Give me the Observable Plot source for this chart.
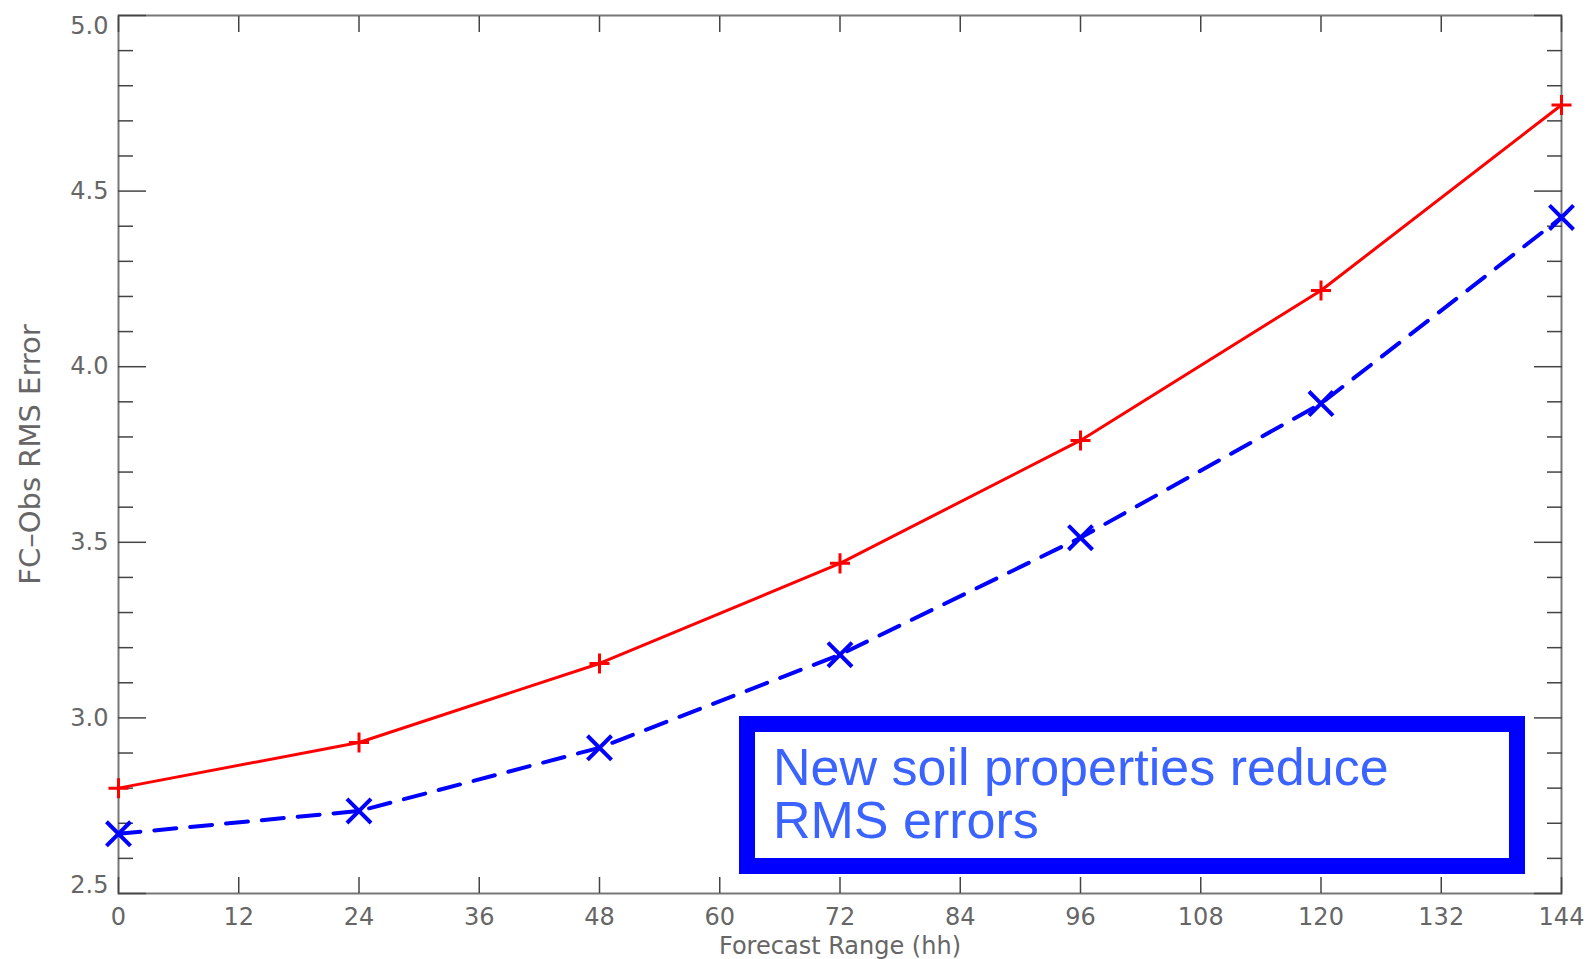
<!DOCTYPE html>
<html><head><meta charset="utf-8">
<script src="https://cdn.jsdelivr.net/npm/d3@7"></script>
<script src="https://cdn.jsdelivr.net/npm/@observablehq/plot@0.6"></script>
<style>
body{margin:0;background:#fff;}
#wrap{position:relative;width:1587px;height:959px;}
#note{position:absolute;left:739px;top:716px;width:786px;height:158px;box-sizing:border-box;border:16px solid #0000ff;background:#fff;padding:9px 0 0 18px;font-family:"Liberation Sans",Arial,sans-serif;font-size:52px;line-height:53px;color:#3a63ff;white-space:nowrap;}
</style></head><body>
<div id="wrap"></div>
<script>
const hours = [0, 24, 48, 72, 96, 120, 144];
const rmsControl = [2.80, 2.93, 3.155, 3.44, 3.79, 4.217, 4.745];
const rmsNewSoil = [2.67, 2.735, 2.915, 3.18, 3.513, 3.895, 4.425];
const xTicks = [0, 12, 24, 36, 48, 60, 72, 84, 96, 108, 120, 132, 144];
const yMajor = [2.5, 3.0, 3.5, 4.0, 4.5, 5.0];
const yMinor = [2.6, 2.7, 2.8, 2.9, 3.1, 3.2, 3.3, 3.4, 3.6, 3.7, 3.8, 3.9, 4.1, 4.2, 4.3, 4.4, 4.6, 4.7, 4.8, 4.9];
const xTitle = "Forecast Range (hh)";
const yTitle = "FC–Obs RMS Error";
const noteLines = ["New soil properties reduce", "RMS errors"];

const control = hours.map((h, i) => ({h, v: rmsControl[i]}));
const newSoil = hours.map((h, i) => ({h, v: rmsNewSoil[i]}));

const tickStyle = {stroke: "#444", strokeWidth: 1.5, tickFormat: () => "", label: null};
const textStyle = {tickSize: 0, label: null, fill: "#666", fontSize: 24};
const yMid = yMajor.filter(d => d !== 2.5 && d !== 5.0);

const chart = Plot.plot({
  width: 1587,
  height: 959,
  marginLeft: 118,
  marginRight: 26,
  marginTop: 15,
  marginBottom: 66,
  style: {fontFamily: "'DejaVu Sans', sans-serif", background: "#fff", overflow: "visible"},
  x: {domain: [0, 144], axis: null},
  y: {domain: [2.5, 5.0], axis: null},
  marks: [
    Plot.frame({stroke: "#777", strokeWidth: 2}),
    // inward tick marks
    Plot.axisY(yMajor, {anchor: "left", tickSize: -28, ...tickStyle}),
    Plot.axisY(yMinor, {anchor: "left", tickSize: -15, ...tickStyle}),
    Plot.axisY(yMajor, {anchor: "right", tickSize: -28, ...tickStyle}),
    Plot.axisY(yMinor, {anchor: "right", tickSize: -15, ...tickStyle}),
    Plot.axisX(xTicks, {anchor: "bottom", tickSize: -16, ...tickStyle}),
    Plot.axisX(xTicks, {anchor: "top", tickSize: -16, ...tickStyle}),
    // tick labels
    Plot.axisY(yMid, {anchor: "left", tickPadding: 10, tickFormat: d => d.toFixed(1), ...textStyle}),
    Plot.axisY([5.0], {anchor: "left", tickPadding: 10, dy: 11, tickFormat: d => d.toFixed(1), ...textStyle}),
    Plot.axisY([2.5], {anchor: "left", tickPadding: 10, dy: -8, tickFormat: d => d.toFixed(1), ...textStyle}),
    Plot.axisX(xTicks, {anchor: "bottom", tickPadding: 14, tickFormat: d => String(d), ...textStyle}),
    // axis titles
    Plot.text([xTitle], {frameAnchor: "bottom", textAnchor: "middle", lineAnchor: "middle", dy: 53, fill: "#666", fontSize: 24}),
    Plot.text([yTitle], {frameAnchor: "left", textAnchor: "middle", lineAnchor: "middle", rotate: -90, dx: -88, fill: "#666", fontSize: 29}),
    // series
    Plot.line(control, {x: "h", y: "v", stroke: "#ff0000", strokeWidth: 3}),
    Plot.line(newSoil, {x: "h", y: "v", stroke: "#0000ff", strokeWidth: 4, strokeDasharray: "22,14"}),
    Plot.dot(control, {x: "h", y: "v", symbol: "plus", r: 6.5, stroke: "#ff0000", strokeWidth: 3, fill: "none"}),
    Plot.dot(newSoil, {x: "h", y: "v", symbol: "times", r: 11, stroke: "#0000ff", strokeWidth: 4, fill: "none"})
  ]
});

const wrap = document.getElementById("wrap");
wrap.appendChild(chart);
const note = document.createElement("div");
note.id = "note";
note.innerHTML = noteLines.join("<br>");
wrap.appendChild(note);
</script>
</body></html>
